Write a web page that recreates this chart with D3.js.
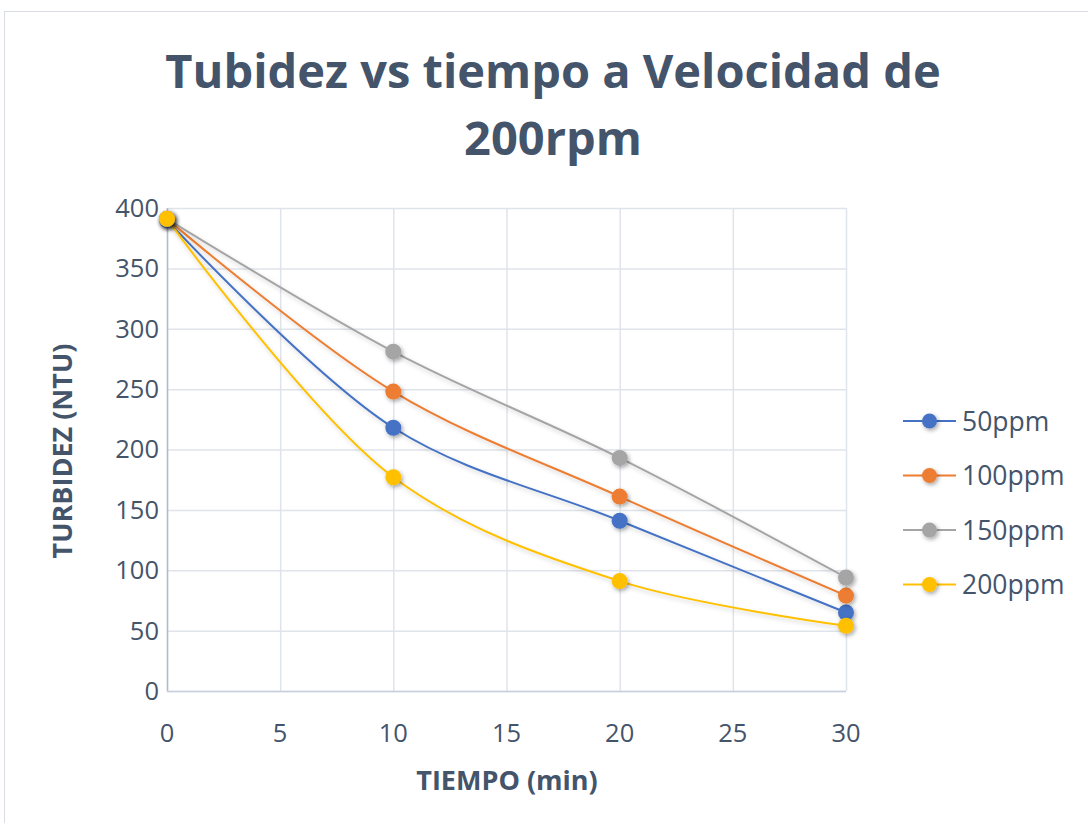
<!DOCTYPE html>
<meta charset="utf-8">
<script src="https://d3js.org/d3.v7.min.js"></script>
<style>
  body { margin: 0; background: #fff; }
  text { font-family: "Open Sans", "Liberation Sans", sans-serif; fill: #44546a; }
</style>
<div id="my_dataviz"></div>
<script>

// data
var tiempo = [0, 10, 20, 30];
var s50  = [390, 218, 141, 65];
var s100 = [391, 248, 161, 79];
var s150 = [391, 281, 193, 94];
var s200 = [391, 177, 91, 54];
var seriesNames = ["50ppm", "100ppm", "150ppm", "200ppm"];
var colors = ["#4472c4", "#ed7d31", "#a5a5a5", "#ffc000"];
var xTicks = [0, 5, 10, 15, 20, 25, 30];
var yTicks = [0, 50, 100, 150, 200, 250, 300, 350, 400];

var series = [s50, s100, s150, s200];

var W = 1088, H = 823;
var margin = {top: 208, left: 167},
    width = 846 - 167,
    height = 691 - 208;

var svg = d3.select("#my_dataviz")
  .append("svg")
    .attr("width", W)
    .attr("height", H);

// shadow for markers
var defs = svg.append("defs");
var f = defs.append("filter").attr("id", "shadow")
  .attr("x", "-50%").attr("y", "-50%").attr("width", "200%").attr("height", "200%");
f.append("feDropShadow").attr("dx", 1.5).attr("dy", 2).attr("stdDeviation", 2)
  .attr("flood-color", "#000").attr("flood-opacity", 0.35);
var f2 = defs.append("filter").attr("id", "lshadow")
  .attr("x", "-10%").attr("y", "-10%").attr("width", "120%").attr("height", "120%");
f2.append("feDropShadow").attr("dx", 1.5).attr("dy", 2.5).attr("stdDeviation", 2)
  .attr("flood-color", "#000").attr("flood-opacity", 0.18);

// chart border
svg.append("rect")
  .attr("x", 4.5).attr("y", 11.5)
  .attr("width", W + 10).attr("height", H + 10)
  .attr("fill", "none").attr("stroke", "#d9dde3").attr("stroke-width", 1);

// title
svg.append("text")
  .attr("x", 553).attr("y", 88)
  .attr("text-anchor", "middle")
  .style("font-size", "47px").style("font-weight", "bold")
  .text("Tubidez vs tiempo a Velocidad de");
svg.append("text")
  .attr("x", 553).attr("y", 155)
  .attr("text-anchor", "middle")
  .style("font-size", "47px").style("font-weight", "bold")
  .text("200rpm");

var g = svg.append("g")
  .attr("transform", "translate(" + margin.left + "," + margin.top + ")");

var x = d3.scaleLinear().domain([0, 30]).range([0, width]);
var y = d3.scaleLinear().domain([0, 400]).range([height, 0]);

// gridlines
g.append("g")
  .selectAll("line.h").data(yTicks).enter().append("line")
    .attr("x1", 0).attr("x2", width)
    .attr("y1", function(d) { return y(d) + 0.5; })
    .attr("y2", function(d) { return y(d) + 0.5; })
    .attr("stroke", "#dfe3ea").attr("stroke-width", 1.5);
g.append("g")
  .selectAll("line.v").data(xTicks).enter().append("line")
    .attr("y1", 0).attr("y2", height)
    .attr("x1", function(d) { return x(d) + 0.5; })
    .attr("x2", function(d) { return x(d) + 0.5; })
    .attr("stroke", "#dfe3ea").attr("stroke-width", 1.5);

// axis lines
g.append("line").attr("x1", 0.5).attr("x2", 0.5).attr("y1", 0).attr("y2", height)
  .attr("stroke", "#b4bccb").attr("stroke-width", 1.5);
g.append("line").attr("x1", 0).attr("x2", width).attr("y1", height + 0.5).attr("y2", height + 0.5)
  .attr("stroke", "#c8cfda").attr("stroke-width", 1.5);

// tick labels
g.append("g")
  .selectAll("text").data(yTicks).enter().append("text")
    .attr("x", -8).attr("y", function(d) { return y(d); })
    .attr("dy", "0.35em")
    .attr("text-anchor", "end")
    .style("font-size", "25.5px")
    .text(function(d) { return d; });
g.append("g")
  .selectAll("text").data(xTicks).enter().append("text")
    .attr("x", function(d) { return x(d); })
    .attr("y", height + 51)
    .attr("text-anchor", "middle")
    .style("font-size", "25.5px")
    .text(function(d) { return d; });

// axis titles
svg.append("text")
  .attr("x", 507).attr("y", 790)
  .attr("text-anchor", "middle")
  .style("font-size", "27px").style("font-weight", "bold")
  .text("TIEMPO (min)");
svg.append("text")
  .attr("transform", "translate(72,451) rotate(-90)")
  .attr("text-anchor", "middle")
  .style("font-size", "27px").style("font-weight", "bold")
  .text("TURBIDEZ (NTU)");

// lines
var line = d3.line()
  .x(function(d, i) { return x(tiempo[i]); })
  .y(function(d) { return y(d); })
  .curve(d3.curveCatmullRom.alpha(0.5));

series.forEach(function(s, k) {
  g.append("path")
    .datum(s)
    .attr("fill", "none")
    .attr("stroke", colors[k])
    .attr("stroke-width", 2)
    .attr("filter", "url(#lshadow)")
    .attr("d", line);
});

series.forEach(function(s, k) {
  g.append("g")
    .selectAll("circle").data(s).enter().append("circle")
      .attr("cx", function(d, i) { return x(tiempo[i]); })
      .attr("cy", function(d) { return y(d); })
      .attr("r", 8)
      .attr("fill", colors[k])
      .attr("filter", "url(#shadow)");
});

// legend
var leg = svg.append("g").attr("transform", "translate(903,421)");
seriesNames.forEach(function(name, k) {
  var row = leg.append("g").attr("transform", "translate(0," + (k * 54.5) + ")");
  row.append("line").attr("x1", 0).attr("x2", 53).attr("y1", 0).attr("y2", 0)
    .attr("stroke", colors[k]).attr("stroke-width", 2);
  row.append("circle").attr("cx", 26.5).attr("cy", 0).attr("r", 7.5)
    .attr("fill", colors[k]).attr("filter", "url(#shadow)");
  row.append("text").attr("x", 59).attr("y", 0).attr("dy", "0.36em")
    .style("font-size", "26.5px")
    .text(name);
});

</script>
